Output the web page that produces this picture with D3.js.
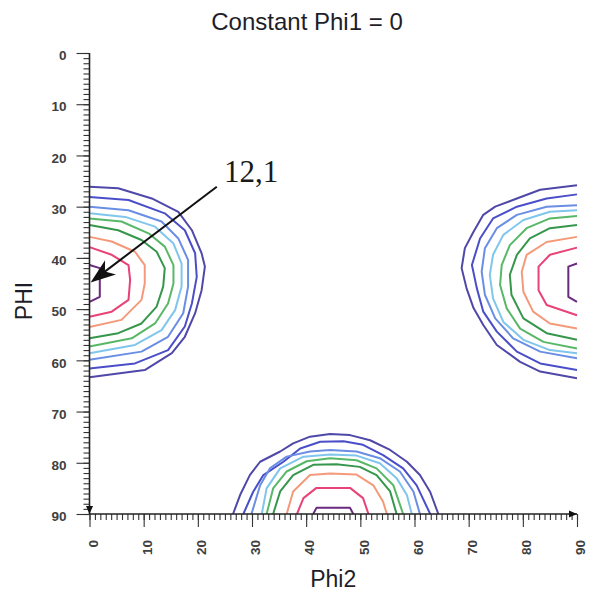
<!DOCTYPE html>
<html>
<head>
<meta charset="utf-8">
<script src="https://cdn.jsdelivr.net/npm/d3@7"></script>
<style>
  html, body { margin: 0; padding: 0; background: #fff; }
  svg { display: block; font-family: "Liberation Sans", Arial, sans-serif; }
</style>
</head>
<body>
<div id="container"></div>
<script>
// ODF section, constant Phi1 = 0 : contour lines as [Phi2, PHI] in degrees

const majorTicks = [0, 10, 20, 30, 40, 50, 60, 70, 80, 90]
const minorTicks = d3.range(0, 91, 1)

// one list per level, outer level first
const leftBlob = [
    [[0,26.1],[5.3,26.4],[11.5,28.4],[16.4,31.0],[18.9,34.6],[20.7,39.1],[21.3,41.7],[20.7,46.3],[19.5,50.8],[17.6,55.4],[15.2,58.6],[10.2,61.9],[0,63.3]],
    [[0,28.1],[7.2,28.7],[13.9,31.3],[17.6,34.6],[19.5,39.1],[19.8,43.7],[18.9,48.9],[17.6,53.4],[14.5,58.0],[8.4,60.6],[0,61.6]],
    [[0,30.0],[7.2,30.7],[13.3,32.9],[16.4,36.2],[18.2,40.4],[18.2,45.6],[17.3,50.8],[14.5,55.4],[9.6,58.3],[0,59.9]],
    [[0,31.3],[6.6,32.0],[12.1,33.9],[15.5,37.2],[17.0,41.1],[17.0,45.6],[15.8,50.2],[13.3,54.1],[8.4,57.0],[0,58.6]],
    [[0,32.3],[5.9,32.9],[10.9,35.2],[13.9,37.8],[15.5,41.4],[15.5,45.0],[14.5,48.9],[12.1,52.8],[7.8,55.7],[0,57.3]],
    [[0,33.6],[5.3,34.6],[9.6,36.5],[12.4,38.8],[13.9,42.0],[13.6,45.6],[12.4,49.5],[9.6,52.8],[5.3,54.7],[0,55.7]],
    [[0,35.9],[4.1,36.8],[8.4,38.8],[10.2,41.4],[10.2,45.0],[9.6,48.2],[5.9,52.1],[0,53.5]],
    [[0,37.9],[4.1,39.4],[7.2,41.4],[7.5,44.3],[7.2,48.2],[4.1,50.5],[0,51.5]],
    [[0,41.4],[1.9,42.0],[1.9,47.6],[0,48.6]]
]

const rightBlob = [
    [[90,25.8],[83.2,26.7],[78.9,28.4],[74.9,30.0],[72.7,31.6],[70.9,34.9],[69.3,38.1],[68.7,42.0],[69.6,45.9],[70.9,49.8],[72.7,53.1],[75.2,57.0],[79.5,60.3],[83.2,62.2],[90,63.5]],
    [[90,27.6],[84.4,28.4],[78.9,30.0],[74.5,32.3],[72.1,36.2],[70.6,41.4],[71.5,45.9],[72.7,50.5],[75.2,54.4],[78.9,58.3],[83.2,60.6],[90,61.9]],
    [[90,29.7],[84.4,30.0],[78.9,31.6],[75.2,34.2],[73.0,38.1],[72.4,42.7],[73.0,47.2],[74.9,51.8],[78.2,55.7],[83.2,58.3],[90,59.6]],
    [[90,30.7],[85.0,31.0],[80.1,32.6],[76.4,35.5],[74.5,39.4],[73.9,43.3],[74.5,47.9],[76.4,52.5],[80.1,56.0],[85.0,58.0],[90,58.6]],
    [[90,31.8],[85.0,32.3],[80.7,34.2],[77.6,37.5],[76.1,41.4],[75.8,45.3],[77.0,49.8],[79.5,53.8],[83.8,56.4],[90,57.7]],
    [[90,33.6],[85.0,34.2],[81.3,36.2],[78.9,39.4],[77.6,43.3],[77.9,47.2],[80.1,51.8],[84.4,54.7],[90,56.0]],
    [[90,35.9],[84.4,36.9],[80.7,39.4],[79.8,42.7],[80.1,46.6],[81.9,50.5],[85.0,52.8],[90,53.8]],
    [[90,38.0],[85.0,39.4],[82.9,41.7],[82.9,46.3],[84.4,49.2],[90,51.2]],
    [[90,41.1],[88.4,41.7],[88.4,47.6],[90,48.6]]
]

const bottomBlob = [
    [[26.5,90],[27.8,86.3],[29.6,82.4],[31.5,79.8],[35.2,77.8],[37.6,76.2],[40.7,74.9],[44.4,74.4],[48.1,74.6],[51.8,75.6],[55.5,77.5],[58.6,79.8],[61.0,82.4],[62.9,85.7],[64.4,90]],
    [[28.4,90],[30.2,85.7],[32.1,82.4],[35.8,79.8],[38.9,77.2],[42.6,75.9],[46.9,75.8],[50.5,76.5],[54.2,78.5],[57.9,81.1],[60.4,84.4],[62.9,90]],
    [[29.9,90],[31.5,84.4],[33.3,81.1],[36.4,78.8],[40.7,77.8],[44.4,77.5],[49.3,77.8],[53.6,79.1],[57.3,81.7],[59.8,85.6],[61.0,90]],
    [[31.8,90],[32.7,85.0],[35.2,81.1],[39.5,78.8],[44.4,78.4],[49.3,78.6],[53.6,80.1],[56.7,83.0],[58.6,86.3],[59.5,90]],
    [[32.7,90],[33.9,85.0],[36.4,81.7],[40.1,79.7],[44.4,79.1],[49.3,79.5],[53.0,81.1],[56.1,84.4],[57.9,90]],
    [[33.9,90],[35.2,85.6],[37.6,82.4],[41.3,80.4],[45.6,80.3],[49.9,80.8],[53.0,82.4],[55.5,85.6],[56.7,90]],
    [[36.4,90],[37.6,85.6],[40.7,82.4],[44.4,82.1],[49.3,82.3],[52.4,84.4],[54.2,87.6],[54.9,90]],
    [[38.3,90],[39.5,86.9],[41.9,84.9],[48.1,84.9],[50.5,86.9],[51.5,90]],
    [[41.3,90],[41.9,88.8],[48.1,88.8],[48.7,90]]
]

// maximum marked with an arrow
const peakLabel = "12,1"
const peakAt = [0.2, 44.8]
const arrowFrom = [23.5, 26.1]

const levelColors = ["#5048a8", "#4a4ec8", "#6a8ee4", "#80c6ec", "#58b868", "#36964c", "#f49a7a", "#e84276", "#6a2a80"]

const width = 594, height = 595

const svg = d3.select("#container").append("svg")
    .attr("width", width)
    .attr("height", height)
    .style("background", "#fff")

const x = d3.scaleLinear().domain([0, 90]).range([89.5, 577])
const y = d3.scaleLinear().domain([0, 90]).range([53, 514])

const line = d3.line()
    .x(d => x(d[0]))
    .y(d => y(d[1]))

// contours
const contours = svg.append("g").attr("id", "contours")
    .attr("fill", "none")
    .attr("stroke-width", 2)
    .attr("stroke-linejoin", "round")

;[leftBlob, rightBlob, bottomBlob].forEach(blob => {
    contours.append("g")
        .selectAll("path")
        .data(blob)
        .enter()
        .append("path")
        .attr("d", line)
        .attr("stroke", (d, i) => levelColors[i])
})

// axes
const yMinor = svg.append("g")
    .attr("transform", `translate(${x(0)},0)`)
    .call(d3.axisLeft(y).tickValues(minorTicks).tickSize(6).tickFormat(""))
yMinor.select(".domain").remove()

const yMajor = svg.append("g")
    .attr("transform", `translate(${x(0)},0)`)
    .call(d3.axisLeft(y).tickValues(majorTicks).tickSize(13).tickPadding(10))
yMajor.select(".domain").remove()
yMajor.selectAll("text").attr("dy", "0.5em")

const xMinor = svg.append("g")
    .attr("transform", `translate(0,${y(90)})`)
    .call(d3.axisBottom(x).tickValues(minorTicks).tickSize(6).tickFormat(""))
xMinor.select(".domain").remove()

const xMajor = svg.append("g")
    .attr("transform", `translate(0,${y(90)})`)
    .call(d3.axisBottom(x).tickValues(majorTicks).tickSize(13))
xMajor.select(".domain").remove()
xMajor.selectAll("text")
    .attr("transform", "rotate(-90)")
    .attr("text-anchor", "end")
    .attr("x", -26)
    .attr("y", 3)
    .attr("dy", "0.35em")

svg.selectAll(".tick line").attr("stroke", "#333").attr("stroke-width", 1.1)
svg.selectAll(".tick text")
    .attr("fill", "#404040")
    .style("font-size", "13.5px")
    .style("font-weight", "bold")
    .style("font-family", "'Liberation Sans', Arial, sans-serif")

// axis lines with arrow ends
svg.append("line")
    .attr("x1", x(0)).attr("x2", x(0))
    .attr("y1", y(0)).attr("y2", y(90))
    .attr("stroke", "#222").attr("stroke-width", 1.6)
svg.append("line")
    .attr("x1", x(0)).attr("x2", x(90))
    .attr("y1", y(90)).attr("y2", y(90))
    .attr("stroke", "#222").attr("stroke-width", 1.6)
svg.append("path")
    .attr("d", `M${x(0) - 3.5},${y(90) - 8} L${x(0) + 3.5},${y(90) - 8} L${x(0)},${y(90)} Z`)
    .attr("fill", "#111")
svg.append("path")
    .attr("d", `M${x(90) - 8},${y(90) - 3.5} L${x(90) - 8},${y(90) + 3.5} L${x(90)},${y(90)} Z`)
    .attr("fill", "#111")

// titles
svg.append("text")
    .attr("x", 307).attr("y", 30)
    .attr("text-anchor", "middle")
    .style("font-size", "24px")
    .attr("fill", "#1e1e2a")
    .text("Constant Phi1 = 0")

svg.append("text")
    .attr("x", (x(0) + x(90)) / 2).attr("y", 587)
    .attr("text-anchor", "middle")
    .style("font-size", "23px")
    .attr("fill", "#1e1e2a")
    .text("Phi2")

svg.append("text")
    .attr("transform", `translate(32,301) rotate(-90)`)
    .attr("text-anchor", "middle")
    .style("font-size", "23px")
    .attr("fill", "#1e1e2a")
    .text("PHI")

// peak annotation
const p0 = [x(arrowFrom[0]), y(arrowFrom[1])]
const p1 = [x(peakAt[0]), y(peakAt[1])]
const len = Math.hypot(p1[0] - p0[0], p1[1] - p0[1])
const u = [(p1[0] - p0[0]) / len, (p1[1] - p0[1]) / len]
const n = [-u[1], u[0]]
const headL = 25, headW = 9

svg.append("line")
    .attr("x1", p0[0]).attr("y1", p0[1])
    .attr("x2", p1[0] - u[0] * headL * 0.6).attr("y2", p1[1] - u[1] * headL * 0.6)
    .attr("stroke", "#111").attr("stroke-width", 2)

svg.append("path")
    .attr("d", d3.line()([
        p1,
        [p1[0] - u[0] * headL + n[0] * headW, p1[1] - u[1] * headL + n[1] * headW],
        [p1[0] - u[0] * headL * 0.72, p1[1] - u[1] * headL * 0.72],
        [p1[0] - u[0] * headL - n[0] * headW, p1[1] - u[1] * headL - n[1] * headW]
    ]) + "Z")
    .attr("fill", "#111")

svg.append("text")
    .attr("x", 224).attr("y", 182)
    .style("font-family", "'Liberation Serif', 'Times New Roman', serif")
    .style("font-size", "31px")
    .attr("fill", "#1a1a1a")
    .text(peakLabel)
</script>
</body>
</html>
